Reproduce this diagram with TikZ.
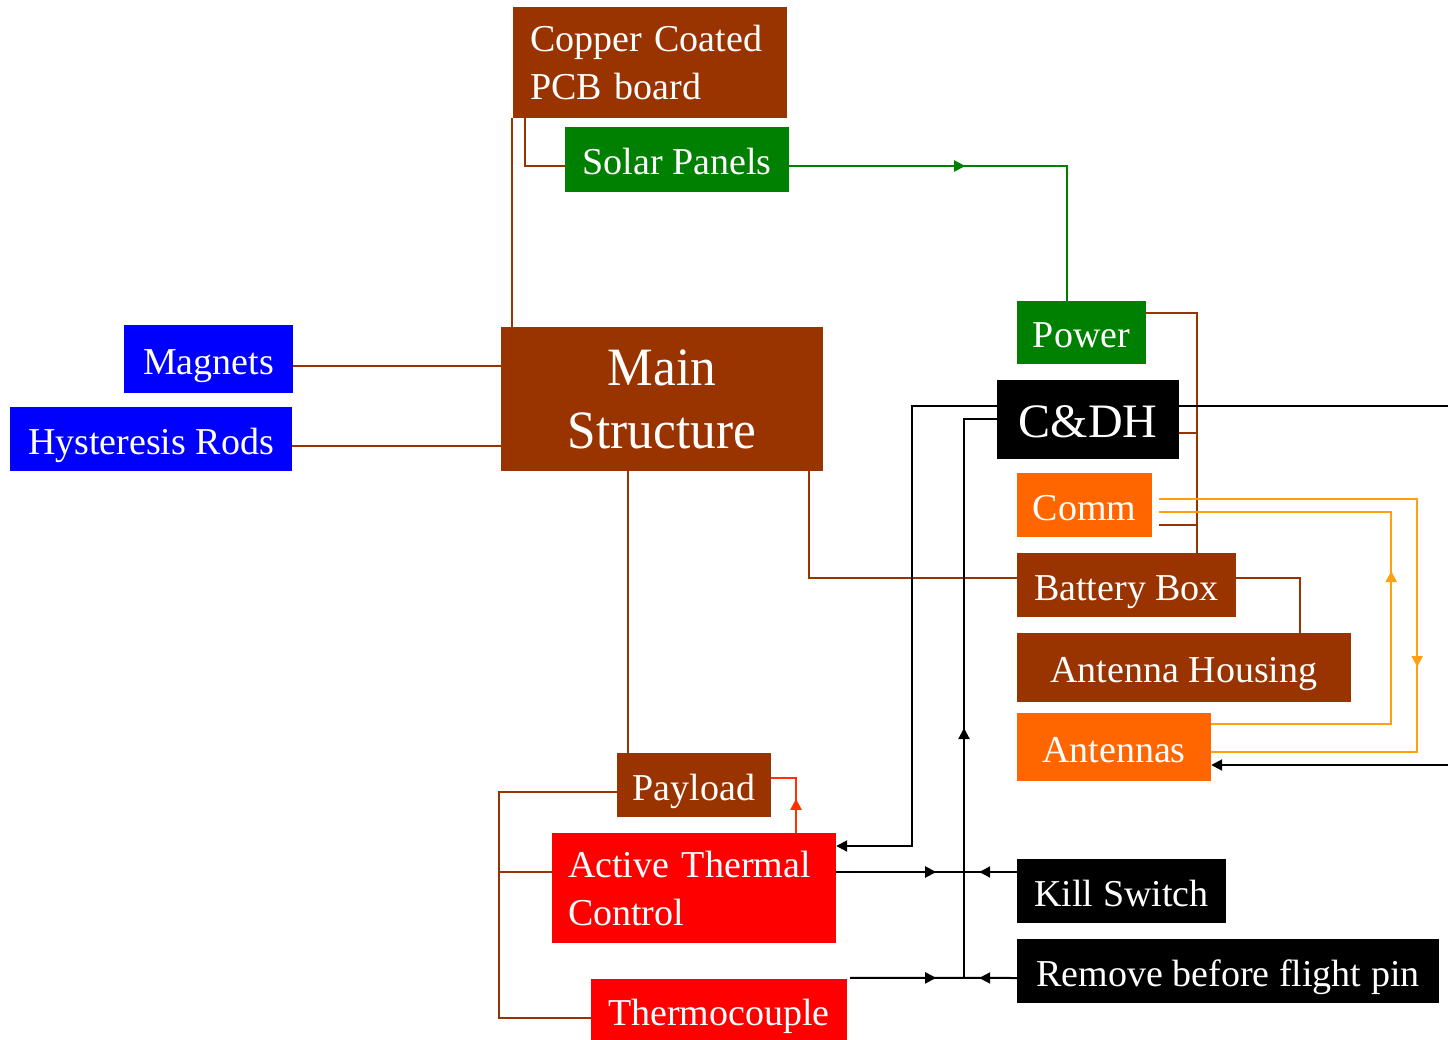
\documentclass[tikz,border=0pt]{standalone}
\usepackage{fontspec}
\setmainfont{Liberation Serif}
\newfontfamily\narrowfont[FakeStretch=0.95]{Liberation Serif}
\usetikzlibrary{arrows.meta,decorations.markings}
\definecolor{rust}{HTML}{993300}
\definecolor{leaf}{HTML}{008000}
\definecolor{tang}{HTML}{FF6600}
\definecolor{amber}{HTML}{FFA010}
\definecolor{scarlet}{HTML}{FF3300}
\tikzset{
  part/.style={fill=#1, text=white, inner sep=0pt, font=\fontsize{38}{48}\selectfont},
  oneline/.style={text height=30pt, text depth=0pt},
  link/.style={draw=#1, line width=2pt},
  tipA/.tip={Triangle[length=11pt,width=11pt]},
  midarrow/.style={postaction={decorate}, decoration={markings, mark=at position #1 with {\arrow{tipA}}}},
  twoway/.style 2 args={postaction={decorate}, decoration={markings,
      mark=at position #1 with {\arrow{tipA}},
      mark=at position #2 with {\arrow{tipA[reversed]}}}}
}
\begin{document}
\begin{tikzpicture}[x=1pt, y=-1pt]
    \useasboundingbox (0,0) rectangle (1448,1040);
    \fill[white] (0,0) rectangle (1448,1040);
    \node[part=rust, minimum width=274pt, minimum height=111pt, text width=240pt, align=left] (pcb) at (650,62.5) {Copper Coated\\PCB board};
    \node[part=leaf, oneline, minimum width=224pt, minimum height=65pt] (solar) at (677,159.5) {Solar Panels};
    \node[part=rust, minimum width=322pt, minimum height=144pt, align=center, font=\narrowfont\fontsize{54}{63}\selectfont] (main) at (662,399) {Main\\Structure};
    \node[part=blue, oneline, minimum width=169pt, minimum height=68pt] (magnets) at (208.5,359) {Magnets};
    \node[part=blue, oneline, minimum width=282pt, minimum height=64pt] (hyst) at (151,439) {Hysteresis Rods};
    \node[part=leaf, oneline, minimum width=129pt, minimum height=63pt] (power) at (1081.5,332.5) {Power};
    \node[part=black, text height=36pt, text depth=0pt, minimum width=182pt, minimum height=79pt, font=\fontsize{48}{58}\selectfont] (cdh) at (1088,419.5) {C\&DH};
    \node[part=tang, oneline, minimum width=135pt, minimum height=64pt] (comm) at (1084.5,505) {Comm};
    \node[part=rust, oneline, minimum width=219pt, minimum height=64pt] (battery) at (1126.5,585) {Battery Box};
    \node[part=rust, oneline, minimum width=334pt, minimum height=69pt] (housing) at (1184,667.5) {Antenna Housing};
    \node[part=tang, oneline, minimum width=194pt, minimum height=68pt] (antennas) at (1114,747) {Antennas};
    \node[part=rust, oneline, minimum width=154pt, minimum height=64pt] (payload) at (694,785) {Payload};
    \node[part=red, minimum width=284pt, minimum height=110pt, text width=252pt, align=left] (atc) at (694,888) {Active Thermal\\Control};
    \node[part=red, text height=23pt, text depth=0pt, minimum width=256pt, minimum height=69pt] (thermo) at (719,1013.5) {Thermocouple};
    \node[part=black, oneline, minimum width=209pt, minimum height=64pt] (kill) at (1121.5,891) {Kill Switch};
    \node[part=black, oneline, minimum width=422pt, minimum height=64pt] (remove) at (1228,971) {Remove before flight pin};
    \coordinate (pbus) at (1197,313);
    \coordinate (tbus) at (499,792);
    \coordinate (jn) at (964,978);
    \coordinate (edgeA) at (1448,406);
    \coordinate (edgeB) at (1448,765);
    \draw[link=rust] ([xshift=-1pt]pcb.south west) -- ([xshift=-1pt]pcb.south west |- main.north);
    \draw[link=rust] ([xshift=12pt]pcb.south west) |- ([yshift=-6.5pt]solar.west);
    \draw[link=rust] ([yshift=-7pt]magnets.east) -- ([yshift=-7pt]magnets.east -| main.west);
    \draw[link=rust] ([yshift=-7pt]hyst.east) -- ([yshift=-7pt]hyst.east -| main.west);
    \draw[link=rust] ([xshift=-34pt]main.south) -- ([xshift=-34pt]main.south |- payload.north);
    \draw[link=rust] ([xshift=-14pt]main.south east) |- ([yshift=7pt]battery.west);
    \draw[link=rust] ([yshift=19.5pt]power.east) -| ([xshift=70.5pt]battery.north);
    \draw[link=rust] ([yshift=-13.5pt]cdh.east) -- ([yshift=-13.5pt]cdh.east -| pbus);
    \draw[link=rust] ([xshift=7pt,yshift=-20pt]comm.east) -- ([yshift=-20pt]comm.east -| pbus);
    \draw[link=rust] ([yshift=7pt]battery.east) -| ([xshift=116pt]housing.north);
    \draw[link=rust] ([yshift=-7pt]payload.west) -- (tbus) |- ([yshift=-4.5pt]thermo.west);
    \draw[link=rust] ([yshift=16pt]atc.west) -- ([yshift=16pt]atc.west -| tbus);
    \draw[link=scarlet, midarrow=34pt] ([xshift=102pt]atc.north) |- ([yshift=7pt]payload.east);
    \draw[link=leaf, midarrow=176pt] ([yshift=-6.5pt]solar.east) -| ([xshift=-14.5pt]power.north);
    \draw[link=amber, midarrow=426pt] ([xshift=7pt,yshift=6pt]comm.east) -- ++(258,0) |- ([yshift=-5pt]antennas.east);
    \draw[link=amber, midarrow=333pt] ([yshift=23pt]antennas.east) -- ++(180,0) |- ([xshift=7pt,yshift=-7pt]comm.east);
    \draw[link=black] ([yshift=13.5pt]cdh.east) -- (edgeA);
    \draw[link=black, -tipA] ([yshift=13.5pt]cdh.west) -- ++(-85,0) |- ([yshift=42pt]atc.east);
    \draw[link=black, midarrow=250pt] (jn) |- ([yshift=0.5pt]cdh.west);
    \draw[link=black, twoway={100pt}{154pt}] ([yshift=16pt]atc.east) -- ([yshift=19pt]kill.west);
    \draw[link=black, twoway={86pt}{140pt}] ([xshift=3pt,yshift=1pt]thermo.north east) -- ([yshift=-7pt]remove.west);
    \draw[link=black, -tipA] (edgeB) -- ([yshift=-18pt]antennas.east);
\end{tikzpicture}
\end{document}
